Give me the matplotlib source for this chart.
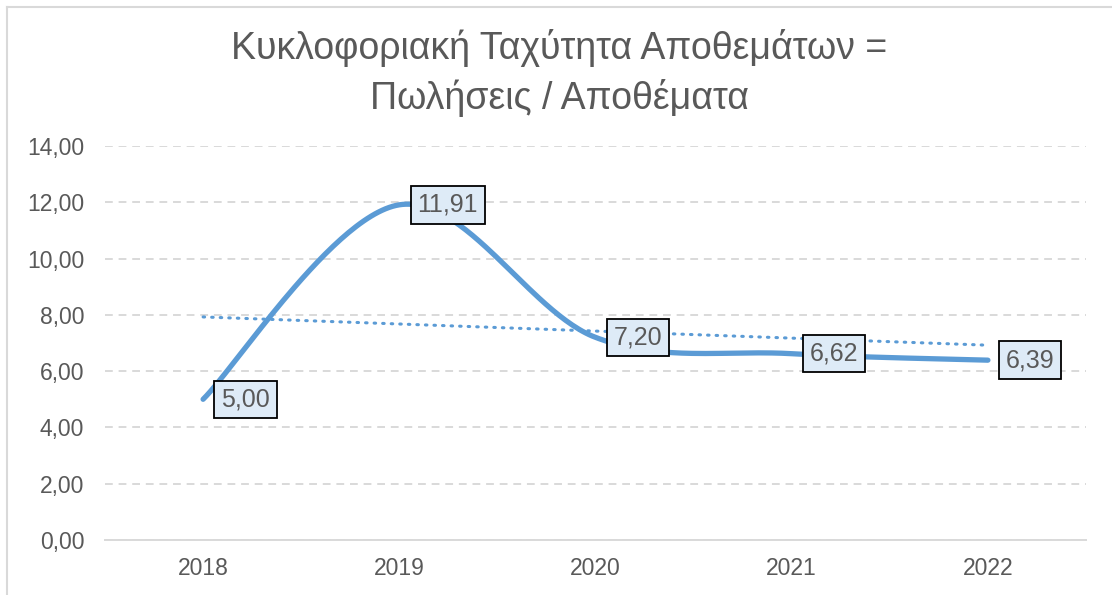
import numpy as np
import matplotlib
matplotlib.use('Agg')
import matplotlib.pyplot as plt
from matplotlib.lines import Line2D

# data
years = ['2018', '2019', '2020', '2021', '2022']
turnover = [5.00, 11.91, 7.20, 6.62, 6.39]
title_lines = ['Κυκλοφοριακή Ταχύτητα Αποθεμάτων =', 'Πωλήσεις / Αποθέματα']

plt.rcParams['font.family'] = ['Liberation Sans', 'DejaVu Sans']

W, H = 1112, 595
fig = plt.figure(figsize=(W / 100, H / 100), dpi=100)
ax = fig.add_axes([105 / W, 1 - 540 / H, (1086 - 105) / W, (540 - 146) / H])

x = np.arange(len(years))
y = np.array(turnover)

# smoothed line like Excel (Catmull-Rom / bezier)
xs, ys = [], []
px = np.concatenate([[x[0]], x, [x[-1]]])
py = np.concatenate([[y[0]], y, [y[-1]]])
t = np.linspace(0, 1, 60)
for i in range(1, len(px) - 2):
    p0 = np.array([px[i], py[i]])
    p3 = np.array([px[i + 1], py[i + 1]])
    p1 = p0 + (np.array([px[i + 1], py[i + 1]]) - np.array([px[i - 1], py[i - 1]])) / 6
    p2 = p3 - (np.array([px[i + 2], py[i + 2]]) - np.array([px[i], py[i]])) / 6
    b = ((1 - t) ** 3)[:, None] * p0 + (3 * (1 - t) ** 2 * t)[:, None] * p1 \
        + (3 * (1 - t) * t ** 2)[:, None] * p2 + (t ** 3)[:, None] * p3
    xs.extend(b[:, 0])
    ys.extend(b[:, 1])

blue = '#5B9BD5'
ax.plot(xs, ys, color=blue, lw=3.8, solid_capstyle='round', zorder=3)

# linear trend line
k, c = np.polyfit(x, y, 1)
ax.plot(x, k * x + c, color=blue, lw=2.2, ls=(0, (0.5, 2.3)), dash_capstyle='round', zorder=2)

# data labels
for xi, yi in zip(x, y):
    ax.annotate(f'{yi:.2f}'.replace('.', ','), (xi, yi), xytext=(13, 0),
                textcoords='offset points', ha='left', va='center',
                fontsize=18, color='#595959', zorder=5,
                bbox=dict(boxstyle='square,pad=0.27', fc='#DEEBF7', ec='black', lw=1.3))

ax.set_xlim(-0.5, 4.5)
ax.set_ylim(0, 14)
ax.set_yticks(np.arange(0, 15, 2))
ax.set_yticklabels([f'{v:.2f}'.replace('.', ',') for v in np.arange(0, 15, 2)])
ax.set_xticks(x)
ax.set_xticklabels(years)
ax.tick_params(length=0, labelsize=16.5, labelcolor='#595959', pad=12)
ax.tick_params(axis='y', pad=15)

ax.yaxis.grid(True, color='#D9D9D9', ls=(0, (4, 3)), lw=1.4)
ax.set_axisbelow(True)
for s in ['top', 'right', 'left']:
    ax.spines[s].set_visible(False)
ax.spines['bottom'].set_color('#D9D9D9')
ax.spines['bottom'].set_linewidth(1.4)

fig.text(0.503, 1 - 48 / H, title_lines[0], ha='center', va='center', fontsize=27, color='#595959')
fig.text(0.503, 1 - 98 / H, title_lines[1], ha='center', va='center', fontsize=27, color='#595959')

# chart frame
fig.add_artist(Line2D([7 / W, 7 / W], [0, 1 - 7 / H], color='#D9D9D9', lw=1.5))
fig.add_artist(Line2D([7 / W, 1], [1 - 7 / H, 1 - 7 / H], color='#D9D9D9', lw=1.5))

fig.savefig('out.png', dpi=100)
